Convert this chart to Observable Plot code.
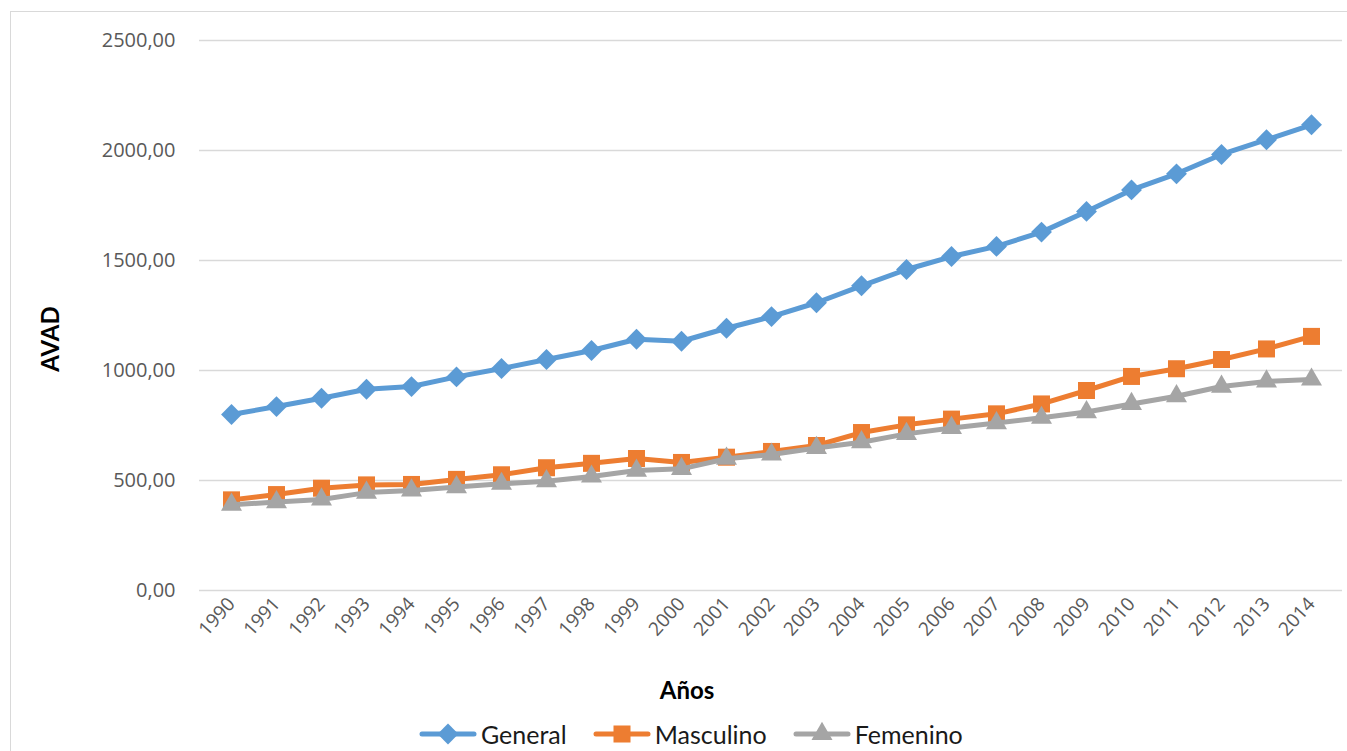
<!DOCTYPE html>
<html>
<head>
<meta charset="utf-8">
<script src="https://cdn.jsdelivr.net/npm/d3@7"></script>
<script src="https://cdn.jsdelivr.net/npm/@observablehq/plot@0.6"></script>
<style>
  body { margin: 0; background: #fff; width: 1347px; height: 751px; overflow: hidden; position: relative; }
  #frame { position: absolute; left: 10px; top: 11px; width: 1400px; height: 800px; border: 1px solid #d9d9d9; box-sizing: border-box; }
  #chart { position: absolute; left: 0; top: 0; }
  .axis-title { position: absolute; font-family: Lato, sans-serif; font-weight: bold; font-size: 24px; color: #000; line-height: 1; white-space: nowrap; }
  #ytitle { left: 50px; top: 339px; transform: translate(-50%, -50%) rotate(-90deg); }
  #xtitle { left: 687px; top: 690px; transform: translate(-50%, -50%); }
  #legend { position: absolute; top: 718px; left: 419px; height: 32px; display: flex; align-items: center; font-family: Lato, sans-serif; font-size: 25px; color: #1a1a1a; }
  .item { display: flex; align-items: center; margin-right: 26px; }
  .item svg { margin-right: 4px; }
</style>
</head>
<body>
<div id="frame"></div>
<div id="chart"></div>
<div id="ytitle" class="axis-title">AVAD</div>
<div id="xtitle" class="axis-title">Años</div>
<div id="legend"></div>
<script>
// AVAD por año, 1990–2014
const years = [1990, 1991, 1992, 1993, 1994, 1995, 1996, 1997, 1998, 1999, 2000, 2001, 2002,
               2003, 2004, 2005, 2006, 2007, 2008, 2009, 2010, 2011, 2012, 2013, 2014];
const general   = [800, 836, 874, 915, 927, 971, 1009, 1050, 1091, 1142, 1133, 1192, 1245,
                   1308, 1385, 1459, 1518, 1564, 1629, 1723, 1821, 1894, 1982, 2049, 2117];
const masculino = [412, 436, 465, 480, 482, 505, 526, 558, 578, 600, 582, 606, 632,
                   659, 718, 753, 779, 803, 848, 909, 973, 1008, 1050, 1098, 1155];
const femenino  = [390, 402, 414, 445, 455, 470, 485, 497, 518, 545, 553, 599, 618,
                   648, 674, 712, 739, 761, 785, 811, 848, 883, 927, 950, 959];

const seriesNames = ["General", "Masculino", "Femenino"];
const seriesColors = ["#5B9BD5", "#ED7D31", "#A5A5A5"];
const seriesSymbols = ["diamond2", "square", "triangle"];
const seriesRadius = [9.4, 9.6, 7.8];
const yTicks = [0, 500, 1000, 1500, 2000, 2500];

const values = [general, masculino, femenino];
const rows = seriesNames.flatMap((name, s) =>
  years.map((year, i) => ({ year, serie: name, value: values[s][i] })));

const fmtComma = d => d.toFixed(2).replace(".", ",");

const seriesMarks = seriesNames.flatMap((name, s) => {
  const data = rows.filter(d => d.serie === name);
  return [
    Plot.line(data, { x: "year", y: "value", stroke: seriesColors[s], strokeWidth: 5,
                      strokeLinejoin: "round", strokeLinecap: "round" }),
    Plot.dot(data, { x: "year", y: "value", symbol: () => seriesSymbols[s],
                     fill: seriesColors[s], stroke: "none", r: seriesRadius[s] })
  ];
});

const chart = Plot.plot({
  width: 1347,
  height: 716,
  marginTop: 40,
  marginBottom: 126,
  marginLeft: 199,
  marginRight: 5,
  style: { fontFamily: "'Open Sans', sans-serif", background: "transparent" },
  x: { type: "point", domain: years, padding: 0.5 },
  y: { domain: [0, 2500] },
  symbol: { type: "identity" },
  marks: [
    Plot.ruleY(yTicks, { stroke: "#d9d9d9", strokeWidth: 1.5 }),
    Plot.axisY({ ticks: yTicks, tickSize: 0, tickPadding: 24, tickFormat: fmtComma,
                 fontSize: 20, color: "#595959", label: null }),
    Plot.axisX({ tickRotate: -48, tickSize: 0, tickPadding: 10, tickFormat: d => String(d),
                 fontSize: 19, color: "#595959", label: null }),
    ...seriesMarks
  ]
});
document.getElementById("chart").appendChild(chart);

// Leyenda: línea con marcador y nombre de cada serie
const legend = d3.select("#legend");
seriesNames.forEach((name, s) => {
  const item = legend.append("div").attr("class", "item");
  const svg = item.append("svg").attr("width", 58).attr("height", 26);
  svg.append("line").attr("x1", 3).attr("x2", 55).attr("y1", 13).attr("y2", 13)
    .attr("stroke", seriesColors[s]).attr("stroke-width", 5).attr("stroke-linecap", "round");
  const sym = { diamond2: d3.symbolDiamond2, square: d3.symbolSquare, triangle: d3.symbolTriangle }[seriesSymbols[s]];
  svg.append("path").attr("transform", "translate(29,13)")
    .attr("d", d3.symbol(sym, seriesRadius[s] * seriesRadius[s] * Math.PI)())
    .attr("fill", seriesColors[s]);
  item.append("span").text(name);
});
</script>
</body>
</html>
